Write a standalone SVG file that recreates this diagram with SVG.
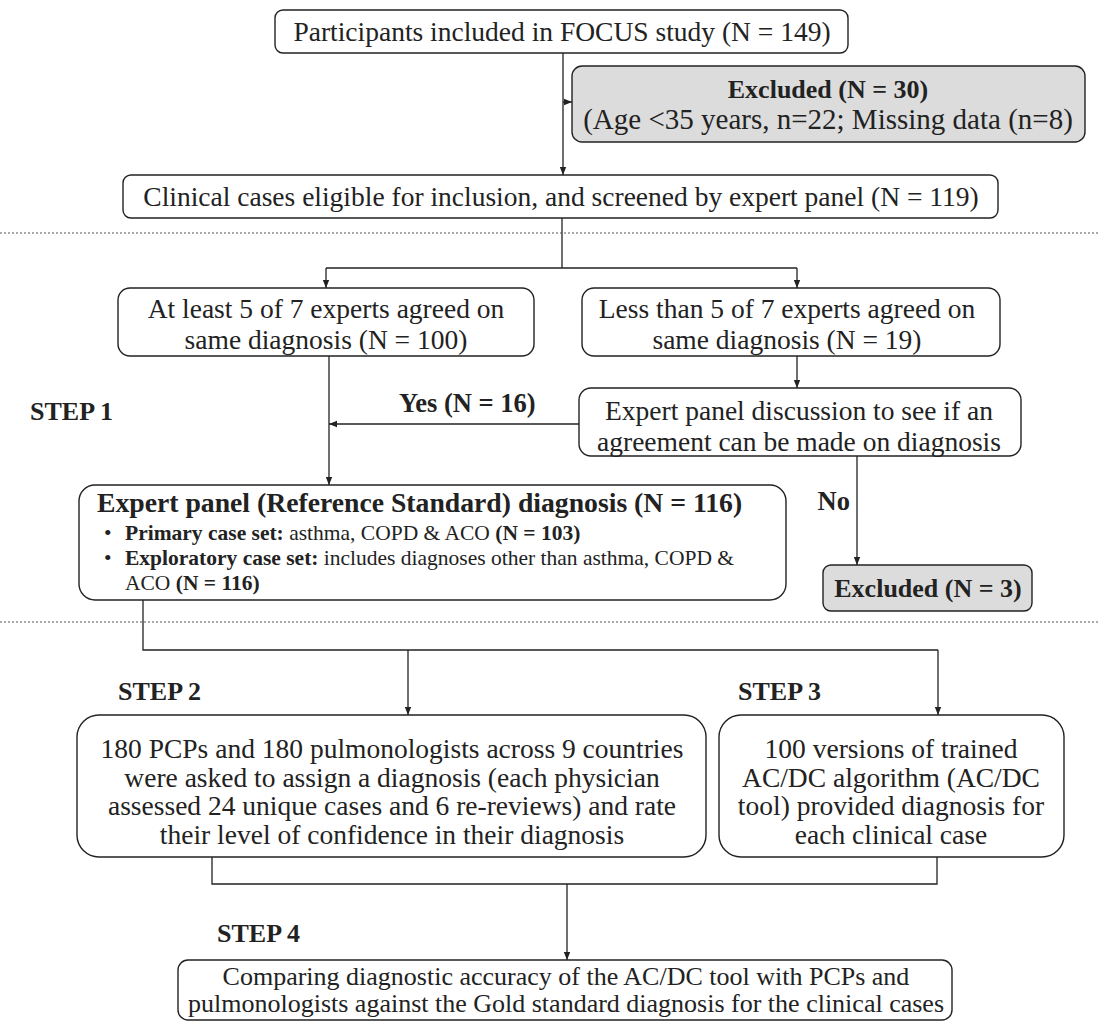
<svg xmlns="http://www.w3.org/2000/svg" width="1098" height="1024" viewBox="0 0 1098 1024">
<style>
.box{fill:#fff;stroke:#222;stroke-width:1.4}
.grey{fill:#dcdcdc;stroke:#222;stroke-width:1.4}
.t{font-family:"Liberation Serif","Times New Roman",serif;font-size:27.5px;fill:#222}
.b{font-weight:bold}
.st{font-size:26px;font-weight:bold}
.h{font-size:27.7px;font-weight:bold}
.m{font-size:21.5px}
.c{text-anchor:middle}
.ln{fill:none;stroke:#222;stroke-width:1.3}
.dash{stroke:#555;stroke-width:1;stroke-dasharray:2,2}
</style>
<defs>
<marker id="ah" viewBox="0 0 10 10" refX="10" refY="5" markerWidth="8" markerHeight="8" markerUnits="userSpaceOnUse" orient="auto">
<path d="M0,1 L10,5 L0,9 z" fill="#222"/>
</marker>
</defs>
<rect width="1098" height="1024" fill="#fff"/>

<g id="connectors">
<line class="ln" x1="563" y1="53" x2="563" y2="175" marker-end="url(#ah)"/>
<line class="ln" x1="563" y1="102" x2="572" y2="102" marker-end="url(#ah)"/>
<line class="ln" x1="562" y1="218" x2="562" y2="268"/>
<line class="ln" x1="326" y1="268" x2="797" y2="268"/>
<line class="ln" x1="326" y1="268" x2="326" y2="288" marker-end="url(#ah)"/>
<line class="ln" x1="797" y1="268" x2="797" y2="288" marker-end="url(#ah)"/>
<line class="ln" x1="797" y1="356" x2="797" y2="388" marker-end="url(#ah)"/>
<line class="ln" x1="329" y1="356" x2="329" y2="485" marker-end="url(#ah)"/>
<line class="ln" x1="579" y1="424" x2="329" y2="424" marker-end="url(#ah)"/>
<line class="ln" x1="857" y1="456" x2="857" y2="565" marker-end="url(#ah)"/>
<polyline class="ln" points="143,600 143,650 938,650"/>
<line class="ln" x1="408" y1="650" x2="408" y2="715" marker-end="url(#ah)"/>
<line class="ln" x1="938" y1="650" x2="938" y2="715" marker-end="url(#ah)"/>
<polyline class="ln" points="212,857 212,884 937,884 937,857"/>
<line class="ln" x1="567" y1="884" x2="567" y2="960" marker-end="url(#ah)"/>
<line class="dash" x1="0" y1="233" x2="1098" y2="233"/>
<line class="dash" x1="0" y1="622" x2="1098" y2="622"/>
</g>

<g id="participants">
<rect class="box" x="275" y="10" width="573" height="43" rx="8"/>
<text class="t c" x="562" y="41">Participants included in FOCUS study (N = 149)</text>
</g>

<g id="excluded30">
<rect class="grey" x="572" y="66" width="513" height="76" rx="10"/>
<text class="t c st" x="828" y="98">Excluded (N = 30)</text>
<text class="t c" x="828" y="129" style="font-size:29px">(Age &lt;35 years, n=22; Missing data (n=8)</text>
</g>

<g id="eligible">
<rect class="box" x="123" y="175" width="875" height="43" rx="8"/>
<text class="t c" x="561" y="206">Clinical cases eligible for inclusion, and screened by expert panel (N = 119)</text>
</g>

<g id="atleast">
<rect class="box" x="118" y="288" width="416" height="68" rx="12"/>
<text class="t c" x="326" y="318">At least 5 of 7 experts agreed on</text>
<text class="t c" x="326" y="349">same diagnosis (N = 100)</text>
</g>

<g id="lessthan">
<rect class="box" x="582" y="288" width="418" height="68" rx="12"/>
<text class="t c" x="787" y="318">Less than 5 of 7 experts agreed on</text>
<text class="t c" x="787" y="349">same diagnosis (N = 19)</text>
</g>

<g id="discussion">
<rect class="box" x="579" y="388" width="442" height="68" rx="12"/>
<text class="t c" x="799" y="420">Expert panel discussion to see if an</text>
<text class="t c" x="799" y="451">agreement can be made on diagnosis</text>
</g>

<g id="labels">
<text class="t b" x="399" y="412" style="font-size:26.5px">Yes (N = 16)</text>
<text class="t b" x="850" y="510" style="text-anchor:end;font-size:26.5px">No</text>
<text class="t st" x="30" y="420">STEP 1</text>
<text class="t st" x="118" y="700">STEP 2</text>
<text class="t st" x="738" y="700">STEP 3</text>
<text class="t st" x="217" y="942">STEP 4</text>
</g>

<g id="reference">
<rect class="box" x="79" y="485" width="707" height="115" rx="16"/>
<text class="t h" x="97" y="512">Expert panel (Reference Standard) diagnosis (N = 116)</text>
<text class="t m" x="104" y="540">•</text>
<text class="t m" x="125" y="540"><tspan class="b">Primary case set:</tspan> asthma, COPD &amp; ACO <tspan class="b">(N = 103)</tspan></text>
<text class="t m" x="104" y="565">•</text>
<text class="t m" x="125" y="565"><tspan class="b">Exploratory case set:</tspan> includes diagnoses other than asthma, COPD &amp;</text>
<text class="t m" x="125" y="590">ACO <tspan class="b">(N = 116)</tspan></text>
</g>

<g id="excluded3">
<rect class="grey" x="823" y="565" width="209" height="46" rx="8"/>
<text class="t c st" x="928" y="597">Excluded (N = 3)</text>
</g>

<g id="step2">
<rect class="box" x="77" y="715" width="629" height="142" rx="22"/>
<text class="t c" x="392" y="758">180 PCPs and 180 pulmonologists across 9 countries</text>
<text class="t c" x="392" y="787">were asked to assign a diagnosis (each physician</text>
<text class="t c" x="392" y="815">assessed 24 unique cases and 6 re-reviews) and rate</text>
<text class="t c" x="392" y="844">their level of confidence in their diagnosis</text>
</g>

<g id="step3">
<rect class="box" x="719" y="715" width="345" height="142" rx="22"/>
<text class="t c" x="891" y="758">100 versions of trained</text>
<text class="t c" x="891" y="787">AC/DC algorithm (AC/DC</text>
<text class="t c" x="891" y="815">tool) provided diagnosis for</text>
<text class="t c" x="891" y="844">each clinical case</text>
</g>

<g id="step4">
<rect class="box" x="178" y="960" width="774" height="60" rx="10"/>
<text class="t c" x="566" y="985" style="font-size:26px">Comparing diagnostic accuracy of the AC/DC tool with PCPs and</text>
<text class="t c" x="566" y="1012" style="font-size:26px">pulmonologists against the Gold standard diagnosis for the clinical cases</text>
</g>
</svg>
